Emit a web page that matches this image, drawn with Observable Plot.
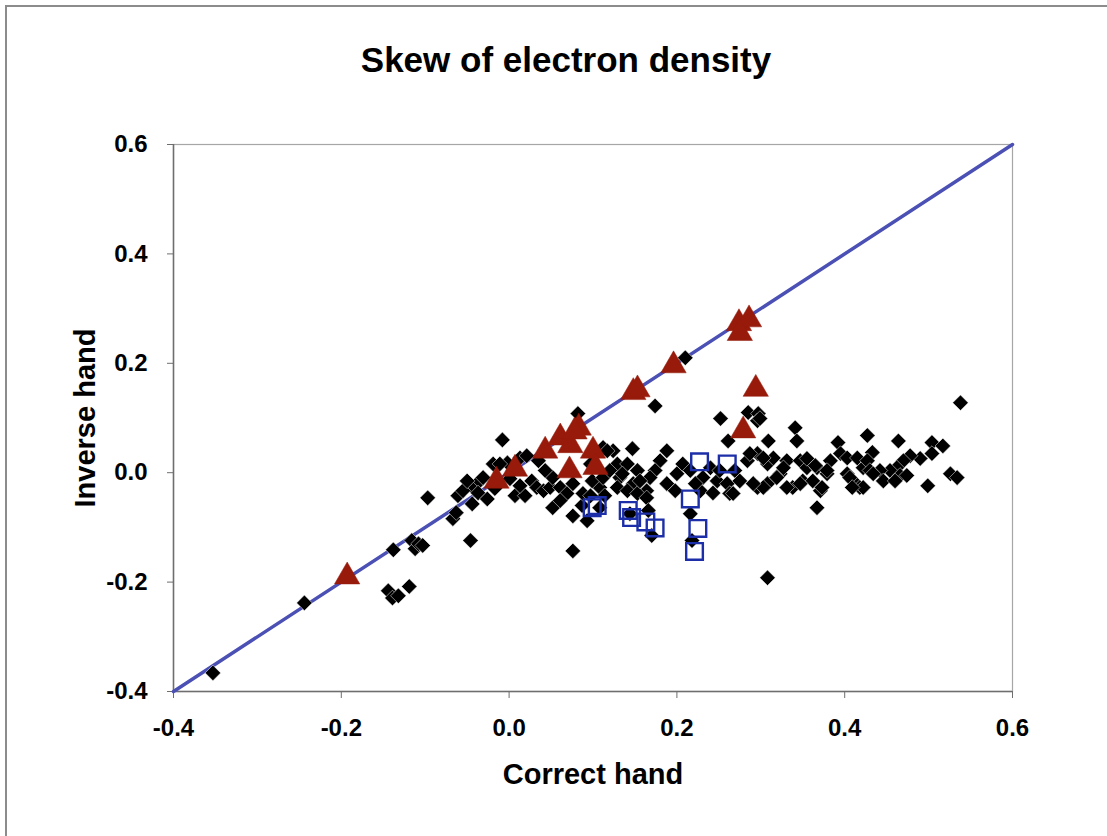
<!DOCTYPE html>
<html>
<head>
<meta charset="utf-8">
<script src="https://cdn.jsdelivr.net/npm/d3@7"></script>
<script src="https://cdn.jsdelivr.net/npm/@observablehq/plot@0.6"></script>
<style>
  html, body { margin: 0; padding: 0; background: #fff; overflow: hidden; }
  body { width: 1107px; height: 836px; position: relative; font-family: "Liberation Sans", Arial, Helvetica, sans-serif; }
  #frame { position: absolute; left: 5px; top: 5px; width: 1200px; height: 900px; border: 2px solid #8c8c8c; box-sizing: border-box; }
  #title { position: absolute; left: 566px; top: 42px; transform: translateX(-50%); font-size: 35px; line-height: 35px; font-weight: bold; white-space: nowrap; color: #000; }
  #chart { position: absolute; left: 0; top: 100px; }
</style>
</head>
<body>
<div id="frame"></div>
<div id="title">Skew of electron density</div>
<div id="chart"></div>
<script>
// Skew of the electron density map computed with the correct hand vs. the inverted hand

// Axis ticks
const ticks = [-0.4, -0.2, 0.0, 0.2, 0.4, 0.6];

// Reference line y = x
const diagonal = [-0.4, 0.6];

// Main set (black diamonds)
const mainCorrect = [
  -0.353, -0.244, -0.138, -0.116, -0.112, -0.108, -0.103, -0.144, -0.139, -0.132,
  -0.119, -0.097, -0.061, -0.067, -0.063, -0.046, -0.008, -0.043, -0.035, -0.031,
  -0.037, -0.026, -0.044, -0.019, -0.002, -0.011, 0.007, 0.019, 0.013, 0.021,
  0.027, 0.033, 0.041, 0.049, 0.052, 0.061, 0.069, 0.076, 0.082, 0.076,
  0.093, 0.076, 0.112, 0.124, 0.147, 0.129, 0.141, 0.132, 0.148, 0.164,
  0.174, 0.108, 0.099, 0.052, 0.087, 0.252, 0.285, 0.297, 0.296, 0.261,
  0.309, 0.341, 0.343, 0.308, 0.117, 0.135, 0.188, 0.180, 0.174, 0.168,
  0.188, 0.200, 0.207, 0.216, 0.231, 0.240, 0.248, 0.260, 0.263, 0.275,
  0.284, 0.296, 0.308, 0.315, 0.323, 0.308, 0.296, 0.331, 0.347, 0.355,
  0.350, 0.338, 0.367, 0.129, 0.141, 0.153, 0.164, 0.144, 0.166, 0.170,
  0.216, 0.218, 0.112, 0.153, 0.108, 0.299, 0.392, 0.427, 0.287, 0.303,
  0.327, 0.367, 0.383, 0.395, 0.403, 0.415, 0.422, 0.379, 0.362, 0.347,
  0.331, 0.319, 0.303, 0.291, 0.267, 0.371, 0.410, 0.418, 0.403, 0.538,
  0.464, 0.504, 0.517, 0.504, 0.490, 0.478, 0.470, 0.462, 0.454, 0.466,
  0.474, 0.442, 0.433, 0.427, 0.430, 0.434, 0.446, 0.460, 0.422, 0.526,
  0.534, 0.499, 0.373, 0.379, 0.406, 0.409, 0.210, 0.355, 0.365, 0.043,
  0.035, 0.097, 0.120, 0.088, 0.001, -0.017, -0.055, -0.050, 0.228, 0.243,
  0.251, 0.269, 0.222, 0.198, 0.156, 0.114, 0.061, 0.013, 0.097
];
const mainInverse = [
  -0.366, -0.238, -0.141, -0.124, -0.139, -0.130, -0.133, -0.216, -0.229, -0.225,
  -0.208, -0.046, -0.042, -0.084, -0.073, -0.124, 0.060, -0.027, -0.015, -0.009,
  -0.037, -0.048, -0.057, 0.016, 0.018, 0.016, -0.042, -0.042, 0.027, 0.031,
  -0.015, -0.027, -0.033, -0.027, -0.009, -0.027, -0.038, -0.020, 0.108, -0.079,
  -0.088, -0.143, 0.046, 0.040, 0.044, 0.016, 0.016, -0.009, -0.020, -0.033,
  0.122, -0.027, -0.015, -0.064, -0.060, 0.099, 0.110, 0.108, 0.095, 0.058,
  0.058, 0.082, 0.058, -0.192, 0.040, -0.002, 0.040, 0.022, 0.004, -0.009,
  -0.020, -0.002, 0.016, 0.004, -0.009, 0.009, -0.015, -0.020, -0.038, -0.015,
  0.022, 0.035, 0.016, 0.027, -0.002, -0.020, -0.027, 0.022, 0.022, 0.009,
  -0.015, -0.027, -0.064, -0.027, -0.033, -0.038, -0.046, -0.075, -0.069, -0.115,
  -0.075, -0.124, -0.009, 0.004, -0.064, 0.099, 0.055, 0.068, 0.035, 0.027,
  0.009, 0.009, 0.022, 0.035, 0.027, 0.027, 0.009, -0.002, -0.015, -0.020,
  -0.027, -0.009, -0.027, -0.020, -0.038, -0.033, -0.015, -0.027, -0.002, 0.128,
  0.058, 0.055, 0.049, 0.035, 0.026, 0.031, 0.022, 0.009, 0.004, -0.005,
  -0.005, 0.004, 0.037, 0.022, 0.004, -0.002, -0.015, -0.015, -0.027, -0.002,
  -0.009, -0.024, -0.027, 0.004, -0.009, -0.027, 0.210, 0.026, 0.013, 0.004,
  0.022, 0.016, 0.004, -0.038, -0.011, -0.029, -0.033, -0.015, -0.033, -0.037,
  0.004, 0.004, -0.020, -0.033, -0.015, -0.042, -0.051, -0.024, -0.042
];

// Second set (red triangles)
const redCorrect = [-0.193, -0.015, 0.007, 0.043, 0.061, 0.073, 0.083, 0.078, 0.100, 0.103,
  0.072, 0.148, 0.153, 0.196, 0.274, 0.286, 0.275, 0.294, 0.279];
const redInverse = [-0.190, -0.015, 0.007, 0.040, 0.064, 0.050, 0.082, 0.075, 0.040, 0.010,
  0.004, 0.147, 0.152, 0.196, 0.273, 0.280, 0.255, 0.153, 0.077];

// Third set (blue open squares)
const blueCorrect = [0.099, 0.105, 0.142, 0.146, 0.163, 0.174, 0.216, 0.225, 0.221, 0.227, 0.260];
const blueInverse = [-0.064, -0.060, -0.069, -0.082, -0.090, -0.101, -0.048, -0.102, -0.144, 0.020, 0.016];

const toPoints = (xs, ys) => xs.map((x, i) => ({x, y: ys[i]}));
const mainPts = toPoints(mainCorrect, mainInverse);
const redPts = toPoints(redCorrect, redInverse);
const bluePts = toPoints(blueCorrect, blueInverse);

const fmt = d => d.toFixed(1);

const chart = Plot.plot({
  width: 1107,
  height: 736,
  marginLeft: 173,
  marginRight: 95,
  marginTop: 44,
  marginBottom: 145,
  style: {
    fontFamily: '"Liberation Sans", Arial, Helvetica, sans-serif',
    fontSize: "24px",
    fontWeight: "bold",
    color: "#000",
    background: "transparent"
  },
  x: {domain: [-0.4, 0.6]},
  y: {domain: [-0.4, 0.6]},
  marks: [
    Plot.frame({stroke: "#a6a6a6", strokeWidth: 1.2}),
    Plot.ruleY([-0.4], {stroke: "#6e6e6e", strokeWidth: 1.5}),
    Plot.ruleX([-0.4], {stroke: "#6e6e6e", strokeWidth: 1.5}),
    Plot.axisX({ticks, tickFormat: fmt, tickSize: 7, tickPadding: 20, stroke: "#6e6e6e", fill: "#000", label: null}),
    Plot.axisY({ticks, tickFormat: fmt, tickSize: 6, tickPadding: 20, stroke: "#6e6e6e", fill: "#000", label: null}),
    Plot.text(["Correct hand"], {frameAnchor: "bottom", dy: 92, fontSize: 29, fontWeight: "bold", fill: "#000"}),
    Plot.text(["Inverse hand"], {frameAnchor: "left", textAnchor: "middle", dx: -88, rotate: -90, fontSize: 29, fontWeight: "bold", fill: "#000"}),
    Plot.line(diagonal, {x: d => d, y: d => d, stroke: "#4b50b5", strokeWidth: 3.5}),
    Plot.dot(mainPts, {x: "x", y: "y", symbol: "diamond2", r: 7, fill: "#000", stroke: "#fff", strokeWidth: 0.5}),
    Plot.dot(bluePts, {x: "x", y: "y", symbol: "square", r: 9.4, fill: "none", stroke: "#1c2fa8", strokeWidth: 2.4}),
    Plot.dot(redPts, {x: "x", y: "y", symbol: "triangle", r: 9.4, fill: "#971a0b", stroke: "#971a0b", strokeWidth: 0.5})
  ]
});
document.getElementById("chart").appendChild(chart);
</script>
</body>
</html>
